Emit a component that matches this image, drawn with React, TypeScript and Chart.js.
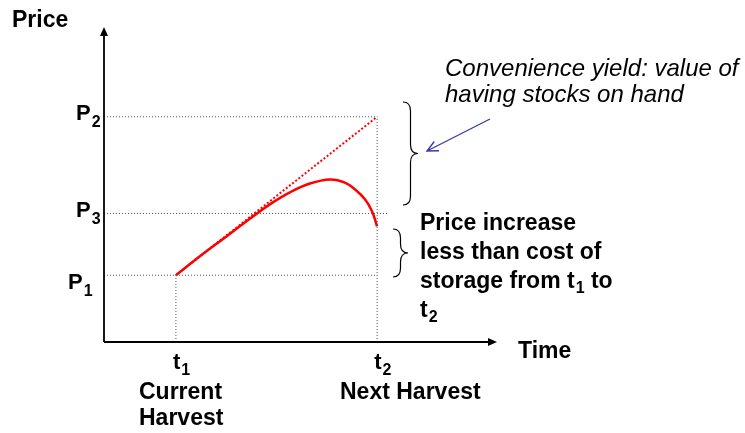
import React, { useEffect, useRef } from "react";
import { Chart, registerables } from "chart.js";

Chart.register(...registerables);

// ---- data ----
const priceNames = ["P", "P", "P"];
const priceSubs = ["1", "2", "3"];
const priceValues = [2.12, 7.15, 4.08];

const timeNames = ["t", "t"];
const timeSubs = ["1", "2"];
const timeValues = [1.83, 6.95];
const timeCaptions = [["Current", "Harvest"], ["Next Harvest"]];

// actual price path (solid red)
const curveX = [1.83, 2.44, 3.08, 3.72, 4.22, 4.73, 5.24, 5.75, 6.13, 6.39, 6.64, 6.82, 6.95];
const curveY = [2.12, 2.72, 3.32, 3.92, 4.37, 4.75, 5.03, 5.16, 5.06, 4.84, 4.53, 4.15, 3.67];

// full cost-of-storage path (dotted red): from (t1,P1) to (t2,P2)
const storageX = [1.83, 6.95];
const storageY = [2.12, 7.15];

const p3LineEnd = 7.23;

const axisTitleY = "Price";
const axisTitleX = "Time";
const noteTop = ["Convenience yield: value of", "having stocks on hand"];
const noteBottom = ["Price increase", "less than cost of", "storage from t", "t"];

const FONT = '"Liberation Sans", Arial, Helvetica, sans-serif';

function drawSub(ctx: CanvasRenderingContext2D, base: string, sub: string, x: number, y: number, size: number, subSize: number, drop: number) {
  ctx.font = `bold ${size}px ${FONT}`;
  ctx.fillText(base, x, y);
  const w = ctx.measureText(base).width;
  ctx.font = `bold ${subSize}px ${FONT}`;
  ctx.fillText(sub, x + w + 1, y + drop);
  return x + w + 1 + ctx.measureText(sub).width;
}

function brace(ctx: CanvasRenderingContext2D, x0: number, xt: number, yTop: number, yBot: number) {
  const xm = (x0 + xt) / 2;
  const ym = (yTop + yBot) / 2;
  const r = Math.min(9, (yBot - yTop) / 5);
  ctx.beginPath();
  ctx.moveTo(x0, yTop);
  ctx.quadraticCurveTo(xm, yTop, xm, yTop + r);
  ctx.lineTo(xm, ym - r);
  ctx.quadraticCurveTo(xm, ym, xt, ym);
  ctx.quadraticCurveTo(xm, ym, xm, ym + r);
  ctx.lineTo(xm, yBot - r);
  ctx.quadraticCurveTo(xm, yBot, x0, yBot);
  ctx.stroke();
}

const decorPlugin = {
  id: "decor",
  afterDatasetsDraw(chart: any) {
    const ctx: CanvasRenderingContext2D = chart.ctx;
    const { left, right, top, bottom } = chart.chartArea;
    const xs = chart.scales.x;
    const ys = chart.scales.y;
    ctx.save();
    ctx.setLineDash([]);
    // axes
    ctx.strokeStyle = "#000";
    ctx.fillStyle = "#000";
    ctx.lineWidth = 1.8;
    ctx.beginPath();
    ctx.moveTo(left, bottom);
    ctx.lineTo(left, top + 6);
    ctx.moveTo(left, bottom);
    ctx.lineTo(right - 6, bottom);
    ctx.stroke();
    ctx.beginPath();
    ctx.moveTo(left, top);
    ctx.lineTo(left - 4, top + 9);
    ctx.lineTo(left + 4, top + 9);
    ctx.closePath();
    ctx.fill();
    ctx.beginPath();
    ctx.moveTo(right, bottom);
    ctx.lineTo(right - 9, bottom - 4);
    ctx.lineTo(right - 9, bottom + 4);
    ctx.closePath();
    ctx.fill();

    ctx.textBaseline = "alphabetic";
    ctx.textAlign = "left";
    // axis titles
    ctx.font = `bold 23px ${FONT}`;
    ctx.fillText(axisTitleY, 12, 27);
    ctx.fillText(axisTitleX, 518, 358);

    // price labels
    const pPos = [
      { x: 68, dy: 14 },
      { x: 76, dy: 3 },
      { x: 76, dy: 4 },
    ];
    priceValues.forEach((v, i) => {
      const py = ys.getPixelForValue(v);
      drawSub(ctx, priceNames[i], priceSubs[i], pPos[i].x, py + pPos[i].dy, 22, 16, 7);
    });

    // time labels
    timeValues.forEach((v, i) => {
      const px = xs.getPixelForValue(v);
      drawSub(ctx, timeNames[i], timeSubs[i], px - 3, 369, 22, 16, 6);
    });
    ctx.font = `bold 23px ${FONT}`;
    ctx.fillText(timeCaptions[0][0], 139, 399);
    ctx.fillText(timeCaptions[0][1], 139, 425);
    ctx.fillText(timeCaptions[1][0], 340, 399);

    // bold note
    ctx.font = `bold 23px ${FONT}`;
    ctx.fillText(noteBottom[0], 420, 230);
    ctx.fillText(noteBottom[1], 420, 259);
    const endX = drawSub(ctx, noteBottom[2], "1", 420, 288, 23, 16, 5);
    ctx.font = `bold 23px ${FONT}`;
    ctx.fillText(" to", endX, 288);
    drawSub(ctx, noteBottom[3], "2", 420, 317, 23, 16, 5);

    // italic note
    ctx.font = `italic 24px ${FONT}`;
    ctx.fillText(noteTop[0], 445, 76);
    ctx.fillText(noteTop[1], 445, 102);

    // braces
    ctx.strokeStyle = "#000";
    ctx.lineWidth = 1.2;
    brace(ctx, 403, 418, 102, 205);
    brace(ctx, 393, 408, 229, 277);

    // blue arrow
    ctx.strokeStyle = "#3a3aae";
    ctx.lineWidth = 1.4;
    const ax0 = 490, ay0 = 119, ax1 = 427, ay1 = 151;
    ctx.beginPath();
    ctx.moveTo(ax0, ay0);
    ctx.lineTo(ax1, ay1);
    const ang = Math.atan2(ay0 - ay1, ax0 - ax1);
    const L = 12;
    ctx.moveTo(ax1 + L * Math.cos(ang + 0.45), ay1 + L * Math.sin(ang + 0.45));
    ctx.lineTo(ax1, ay1);
    ctx.lineTo(ax1 + L * Math.cos(ang - 0.45), ay1 + L * Math.sin(ang - 0.45));
    ctx.stroke();
    ctx.restore();
  },
};

export default function App() {
  const ref = useRef<HTMLCanvasElement>(null);
  useEffect(() => {
    document.body.style.margin = "0";
    const canvas = ref.current!;
    const guide = {
      borderColor: "#555",
      borderWidth: 1,
      borderDash: [1, 2],
      pointRadius: 0,
      showLine: true,
      fill: false,
    };
    const chart = new Chart(canvas, {
      type: "scatter",
      data: {
        datasets: [
          // horizontal guides at P1, P2, P3
          { ...guide, data: [{ x: 0, y: priceValues[0] }, { x: timeValues[1], y: priceValues[0] }] },
          { ...guide, data: [{ x: 0, y: priceValues[1] }, { x: timeValues[1], y: priceValues[1] }] },
          { ...guide, data: [{ x: 0, y: priceValues[2] }, { x: p3LineEnd, y: priceValues[2] }] },
          // vertical guides at t1, t2
          { ...guide, data: [{ x: timeValues[0], y: 0 }, { x: timeValues[0], y: priceValues[0] }] },
          { ...guide, data: [{ x: timeValues[1], y: 0 }, { x: timeValues[1], y: priceValues[1] }] },
          {
            data: storageX.map((x, i) => ({ x, y: storageY[i] })),
            showLine: true,
            borderColor: "#ff0000",
            borderWidth: 2,
            borderDash: [2, 2],
            pointRadius: 0,
          },
          {
            data: curveX.map((x, i) => ({ x, y: curveY[i] })),
            showLine: true,
            borderColor: "#ff0000",
            borderWidth: 2.5,
            tension: 0.4,
            pointRadius: 0,
          },
        ],
      },
      options: {
        responsive: false,
        animation: false,
        events: [],
        layout: { padding: { left: 104, right: 248, top: 27, bottom: 91 } },
        plugins: { legend: { display: false }, tooltip: { enabled: false } },
        scales: {
          x: { type: "linear", min: 0, max: 10, display: false },
          y: { type: "linear", min: 0, max: 10, display: false },
        },
      },
      plugins: [decorPlugin],
    });
    return () => chart.destroy();
  }, []);
  return (
    <div style={{ width: 745, height: 433, background: "#fff" }}>
      <canvas ref={ref} width={745} height={433} style={{ display: "block" }} />
    </div>
  );
}
